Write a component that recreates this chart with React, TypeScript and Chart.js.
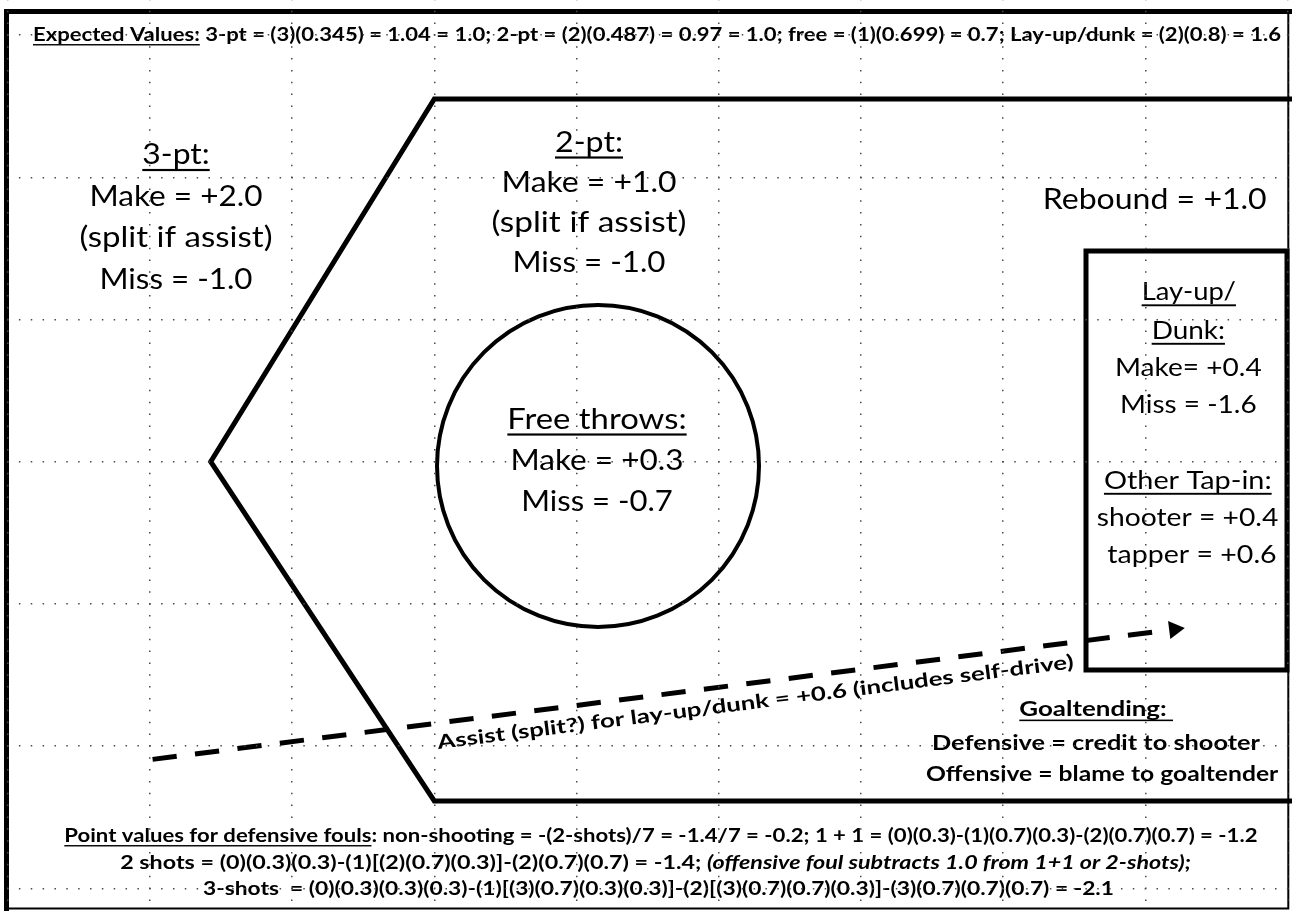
import React, { useEffect, useRef } from "react";
import { Chart, registerables } from "chart.js";

Chart.register(...registerables);

// ---------- sheet size (units = sheet pixels, y grows downward) ----------
const SHEET_W = 1292;
const SHEET_H = 911;

// dotted sheet grid
const GRID_X = [7.8, 150, 292.2, 434.4, 576.6, 718.8, 861, 1003.2, 1145.4, 1287.6];
const GRID_Y = [35.1, 177.3, 319.5, 461.7, 603.9, 746.1, 888.3];

// court outline (3-pt line)
const COURT_X = [1292, 434.3, 210.7, 434.3, 1292];
const COURT_Y = [99, 99, 461.7, 801, 801];

// free-throw circle
const CIRCLE_X = [598];
const CIRCLE_Y = [466];
const CIRCLE_R = [161];

// lay-up / dunk box
const BOX_X = [1287, 1086, 1086, 1287, 1287];
const BOX_Y = [251, 251, 670, 670, 251];

// page frame
const FRAME_HEAVY_X = [6.5, 6.5, 1292];
const FRAME_HEAVY_Y = [911, 11.5, 11.5];
const FRAME_LIGHT_X = [1288.3, 1288.3, 6.5];
const FRAME_LIGHT_Y = [11.5, 908.5, 908.5];

// assist arrow (dashed shaft + head)
const ARROW_X = [151.7, 1169];
const ARROW_Y = [759.5, 630];
const HEAD_X = [1174.4];
const HEAD_Y = [629.3];

// ---------- texts ----------
const TOP_NOTE = [
  "Expected Values:",
  " 3-pt = (3)(0.345) = 1.04 = 1.0; 2-pt = (2)(0.487) = 0.97 = 1.0; free = (1)(0.699) = 0.7; Lay-up/dunk = (2)(0.8) = 1.6",
];
const THREE_PT_LINES = ["3-pt:", "Make = +2.0", "(split if assist)", "Miss = -1.0"];
const TWO_PT_LINES = ["2-pt:", "Make = +1.0", "(split if assist)", "Miss = -1.0"];
const FREE_THROW_LINES = ["Free throws:", "Make = +0.3", "Miss = -0.7"];
const REBOUND_LINE = "Rebound = +1.0";
const LAYUP_LINES = ["Lay-up/", "Dunk:", "Make= +0.4", "Miss = -1.6", "Other Tap-in:", "shooter = +0.4", "tapper = +0.6"];
const ASSIST_LINE = "Assist (split?) for lay-up/dunk = +0.6 (includes self-drive)";
const GOALTENDING_LINES = ["Goaltending: ", "Defensive = credit to shooter", "Offensive = blame to goaltender"];
const FOUL_LINES = [
  "Point values for defensive fouls",
  ": non-shooting = -(2-shots)/7 = -1.4/7 = -0.2; 1 + 1 = (0)(0.3)-(1)(0.7)(0.3)-(2)(0.7)(0.7) = -1.2",
  "2 shots = (0)(0.3)(0.3)-(1)[(2)(0.7)(0.3)]-(2)(0.7)(0.7) = -1.4; ",
  "(offensive foul subtracts 1.0 from 1+1 or 2-shots);",
  "3-shots  = (0)(0.3)(0.3)(0.3)-(1)[(3)(0.7)(0.3)(0.3)]-(2)[(3)(0.7)(0.7)(0.3)]-(3)(0.7)(0.7)(0.7) = -2.1",
];

// ---------- layout / style ----------
type Seg = { t: string; b?: boolean; i?: boolean; u?: boolean };
type Label = { segs: Seg[]; x: number; y: number; w: number; size: number; align: "left" | "center"; rot?: number };

const FAMILY = '"Lato", "Carlito", "Open Sans", sans-serif';
const MAIN = 29;
const BOXF = 25.5;
const SMALL = 18;
const GOAL = 21;
const ASSISTF = 19.5;

function block(lines: string[], under: boolean[], cx: number | number[], ys: number[], ws: number[], size: number): Label[] {
  return lines.map((t, k) => ({
    segs: [{ t, u: under[k] }],
    x: Array.isArray(cx) ? cx[k] : cx,
    y: ys[k],
    w: ws[k],
    size,
    align: "center" as const,
  }));
}

const LABELS: Label[] = [
  { segs: [{ t: TOP_NOTE[0], b: true, u: true }, { t: TOP_NOTE[1], b: true }], x: 33, y: 41, w: 1248, size: SMALL, align: "left" },
  ...block(THREE_PT_LINES, [true, false, false, false], 176, [164, 205.5, 247, 288.5], [67.4, 173, 193, 153], MAIN),
  ...block(TWO_PT_LINES, [true, false, false, false], 589, [151.5, 191.5, 232, 272], [68, 175, 195, 153], MAIN),
  ...block(FREE_THROW_LINES, [true, false, false], 597, [428.5, 470, 511], [179.3, 173, 151.7], MAIN),
  { segs: [{ t: REBOUND_LINE }], x: 1154.7, y: 209, w: 224, size: MAIN, align: "center" },
  ...block(
    LAYUP_LINES,
    [true, true, false, false, true, false, false],
    [1188.8, 1188.3, 1188.3, 1188.3, 1187.8, 1187.5, 1192],
    [300, 338.5, 375.5, 412.5, 488.5, 525.5, 563],
    [94.3, 73.3, 146.7, 136.7, 167.7, 181.7, 169.3],
    BOXF
  ),
  { segs: [{ t: ASSIST_LINE, b: true }], x: 438.3, y: 749, w: 641, size: ASSISTF, align: "left", rot: -7.25 },
  { segs: [{ t: GOALTENDING_LINES[0], b: true, u: true }], x: 1019.3, y: 716, w: 153.7, size: GOAL, align: "left" },
  { segs: [{ t: GOALTENDING_LINES[1], b: true }], x: 932, y: 750, w: 328, size: GOAL, align: "left" },
  { segs: [{ t: GOALTENDING_LINES[2], b: true }], x: 926, y: 781, w: 352.3, size: GOAL, align: "left" },
  { segs: [{ t: FOUL_LINES[0], b: true, u: true }, { t: FOUL_LINES[1], b: true }], x: 64.3, y: 842, w: 1193.2, size: SMALL, align: "left" },
  { segs: [{ t: FOUL_LINES[2], b: true }, { t: FOUL_LINES[3], b: true, i: true }], x: 120.2, y: 869, w: 1070.8, size: SMALL, align: "left" },
  { segs: [{ t: FOUL_LINES[4], b: true }], x: 203, y: 894.5, w: 911, size: SMALL, align: "left" },
];

function fontOf(s: Seg, size: number) {
  return `${s.i ? "italic " : ""}${s.b ? "bold " : ""}${size}px ${FAMILY}`;
}

const textPlugin = {
  id: "sheetText",
  afterDatasetsDraw(chart: any) {
    const { ctx } = chart;
    const xs = chart.scales.x;
    const ys = chart.scales.y;
    ctx.save();
    ctx.fillStyle = "#000";
    ctx.textBaseline = "alphabetic";
    ctx.textAlign = "left";
    for (const L of LABELS) {
      const px = xs.getPixelForValue(L.x);
      const py = ys.getPixelForValue(L.y);
      const pw = xs.getPixelForValue(L.x + L.w) - px;
      const widths = L.segs.map((s) => {
        ctx.font = fontOf(s, L.size);
        return ctx.measureText(s.t).width;
      });
      const total = widths.reduce((a: number, b: number) => a + b, 0);
      const sx = pw / total;
      ctx.save();
      ctx.translate(px, py);
      if (L.rot) ctx.rotate((L.rot * Math.PI) / 180);
      ctx.scale(sx, 1);
      let cur = L.align === "center" ? -total / 2 : 0;
      L.segs.forEach((s, k) => {
        ctx.font = fontOf(s, L.size);
        ctx.fillText(s.t, cur, 0);
        if (s.u) ctx.fillRect(cur, L.size * 0.17, widths[k], Math.max(1.4, L.size * 0.075));
        cur += widths[k];
      });
      ctx.restore();
    }
    ctx.restore();
  },
};

const pts = (xs: number[], ys: number[]) => xs.map((x, i) => ({ x, y: ys[i] }));

function lineDs(label: string, xs: number[], ys: number[], width: number, extra: any = {}) {
  return {
    type: "scatter" as const,
    label,
    data: pts(xs, ys),
    showLine: true,
    borderColor: "#000",
    backgroundColor: "#000",
    borderWidth: width,
    pointRadius: 0,
    pointHoverRadius: 0,
    tension: 0,
    borderJoinStyle: "miter",
    borderCapStyle: "butt",
    fill: false,
    ...extra,
  };
}

function gridScale(min: number, max: number, ticks: number[], reverse: boolean, dashOffset: number) {
  return {
    type: "linear" as const,
    min,
    max,
    reverse,
    display: true,
    ticks: { display: false },
    grid: { display: true, color: "#4a4a4a", lineWidth: 1.5, drawTicks: false, z: 1 },
    border: { display: false, dash: [1.5, 10.35], dashOffset },
    afterBuildTicks: (axis: any) => {
      axis.ticks = ticks.map((value) => ({ value }));
    },
  };
}

export default function App() {
  const ref = useRef<HTMLCanvasElement>(null);

  useEffect(() => {
    if (!ref.current) return;
    const dx = ARROW_X[1] - ARROW_X[0];
    const dy = ARROW_Y[1] - ARROW_Y[0];
    const headRotation = 90 - (Math.atan2(-dy, dx) * 180) / Math.PI;

    const chart = new Chart(ref.current, {
      type: "scatter",
      data: {
        datasets: [
          lineDs("frame-heavy", FRAME_HEAVY_X, FRAME_HEAVY_Y, 5),
          lineDs("frame-light", FRAME_LIGHT_X, FRAME_LIGHT_Y, 2),
          lineDs("court", COURT_X, COURT_Y, 5),
          lineDs("lay-up box", BOX_X, BOX_Y, 5, { borderCapStyle: "square" }),
          {
            type: "bubble",
            label: "free-throw circle",
            data: CIRCLE_X.map((x, i) => ({ x, y: CIRCLE_Y[i], r: CIRCLE_R[i] })),
            borderColor: "#000",
            borderWidth: 4,
            backgroundColor: "rgba(0,0,0,0)",
            hoverRadius: 0,
          } as any,
          lineDs("assist", ARROW_X, ARROW_Y, 5, { borderDash: [24.3, 18.45], borderDashOffset: 41.85 }),
          {
            type: "scatter",
            label: "assist head",
            data: pts(HEAD_X, HEAD_Y),
            pointStyle: "triangle",
            pointRadius: 10.5,
            pointHoverRadius: 10.5,
            rotation: headRotation,
            backgroundColor: "#000",
            borderColor: "#000",
            borderWidth: 0,
          } as any,
        ] as any,
      },
      options: {
        animation: false,
        responsive: false,
        devicePixelRatio: 1,
        events: [],
        layout: { padding: 0, autoPadding: false },
        plugins: { legend: { display: false }, tooltip: { enabled: false }, title: { display: false } },
        scales: {
          x: gridScale(0, SHEET_W, GRID_X, false, 1.2) as any,
          y: gridScale(0, SHEET_H, GRID_Y, true, 4.8) as any,
        },
      },
      plugins: [textPlugin],
    });
    return () => chart.destroy();
  }, []);

  return (
    <div style={{ position: "fixed", left: 0, top: 0, width: SHEET_W, height: SHEET_H, background: "#fff" }}>
      <canvas ref={ref} width={SHEET_W} height={SHEET_H} style={{ display: "block" }} />
    </div>
  );
}
